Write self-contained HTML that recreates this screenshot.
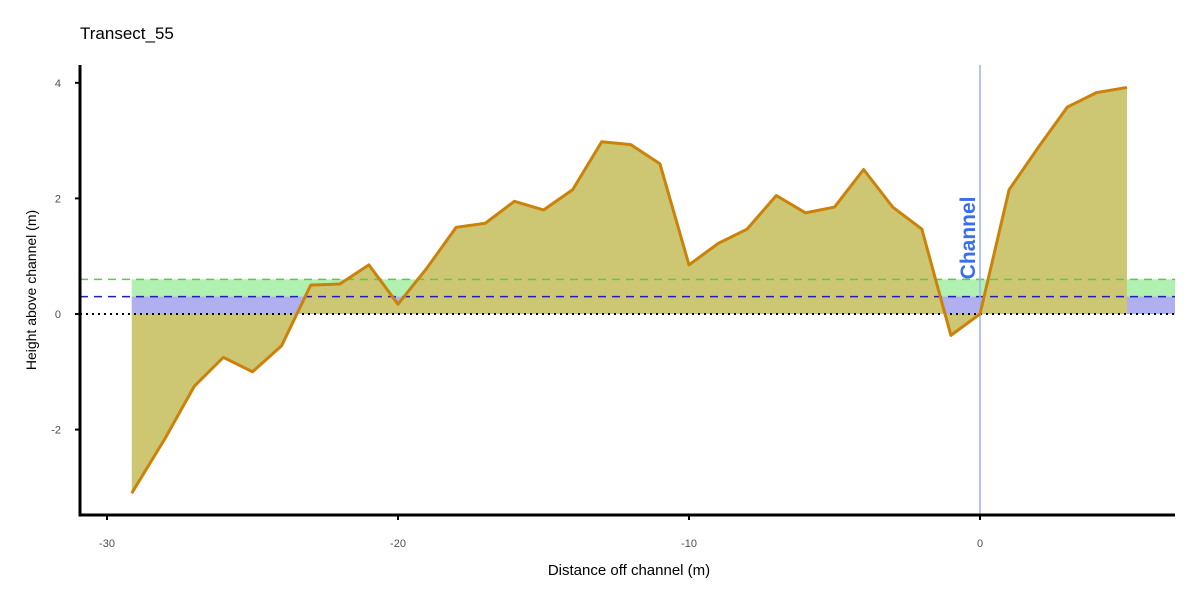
<!DOCTYPE html>
<html><head><meta charset="utf-8"><style>
body{margin:0;background:#fff;font-family:"Liberation Sans",sans-serif}
</style></head><body>
<svg id="c" width="1200" height="600" xmlns="http://www.w3.org/2000/svg">
<text x="80" y="39" font-size="17" fill="#000">Transect_55</text>
<g id="plot"></g>
<text x="629" y="575" font-size="15" text-anchor="middle">Distance off channel (m)</text>
<text transform="translate(36,290) rotate(-90)" font-size="14" text-anchor="middle">Height above channel (m)</text>
</svg>
<script>
const distances=[-29.15,-28,-27,-26,-25,-24,-23,-22,-21,-20,-19,-18,-17,-16,-15,-14,-13,-12,-11,-10,-9,-8,-7,-6,-5,-4,-3,-2,-1,0,1,2,3,4,5.05];
const heights=[-3.1,-2.15,-1.25,-0.75,-1.0,-0.55,0.5,0.52,0.85,0.17,0.8,1.5,1.57,1.95,1.8,2.15,2.98,2.93,2.6,0.85,1.22,1.47,2.05,1.75,1.85,2.5,1.85,1.47,-0.37,0,2.15,2.88,3.58,3.83,3.92];
const xTicks=[-30,-20,-10,0];
const yTicks=[-2,0,2,4];
const greenLevel=0.6, blueLevel=0.3;
const NS="http://www.w3.org/2000/svg";
const X=v=>980+v*29.1, Y=v=>314-v*57.8;
const L=80,R=1175,T=65,B=515;
const g=document.getElementById('plot');
function mk(t,a){const e=document.createElementNS(NS,t);for(const k in a)e.setAttribute(k,a[k]);g.appendChild(e);return e;}
const x0=X(distances[0]);
let e=mk('rect',{x:x0,y:Y(greenLevel),width:R-x0,height:Y(0)-Y(greenLevel),fill:'#b0f0b0'});


e=mk('rect',{x:x0,y:Y(blueLevel),width:R-x0,height:Y(0)-Y(blueLevel),fill:'#b0b0f0'});


let pts=distances.map((d,i)=>X(d)+','+Y(heights[i])).join(' ');
e=mk('polygon',{points:X(distances[0])+','+Y(0)+' '+pts+' '+X(distances[distances.length-1])+','+Y(0),fill:'#cdc672'});


e=mk('line',{x1:L,x2:R,y1:Y(greenLevel),y2:Y(greenLevel),stroke:'#5ccb4c','stroke-width':1.5,'stroke-dasharray':'8,6'});


e=mk('line',{x1:L,x2:R,y1:Y(blueLevel),y2:Y(blueLevel),stroke:'#2020b0','stroke-width':1.5,'stroke-dasharray':'8,6'});


e=mk('line',{x1:L,x2:R,y1:Y(0),y2:Y(0),stroke:'#000','stroke-width':2,'stroke-dasharray':'2,4'});


e=mk('line',{x1:X(0),x2:X(0),y1:T,y2:B,stroke:'#9ab0f5','stroke-width':1.5});


e=mk('polyline',{points:pts,fill:'none',stroke:'#cc820a','stroke-width':3,'stroke-linejoin':'round'});


e=mk('text',{transform:`translate(${X(0)-5},${Y(0.6)}) rotate(-90)`,'font-size':21,'font-weight':'bold',fill:'#3a6ef0','font-family':'Liberation Sans'});
e.textContent='Channel';


e=mk('line',{x1:L,x2:L,y1:T,y2:B,stroke:'#000','stroke-width':3});


e=mk('line',{x1:L-1.5,x2:R,y1:B,y2:B,stroke:'#000','stroke-width':3});


xTicks.forEach(v=>{
 let t=mk('line',{x1:X(v),x2:X(v),y1:B,y2:B+5,stroke:'#000','stroke-width':2});
 
 
 t=mk('text',{x:X(v),y:B+32,'font-size':11,'text-anchor':'middle',fill:'#4d4d4d'});
 t.textContent=v;
 
 
});
yTicks.forEach(v=>{
 let t=mk('line',{x1:L-5,x2:L,y1:Y(v),y2:Y(v),stroke:'#000','stroke-width':2});
 
 
 t=mk('text',{x:L-19,y:Y(v)+4,'font-size':11,'text-anchor':'end',fill:'#4d4d4d'});
 t.textContent=v;
 
 
});
</script>
</body></html>
